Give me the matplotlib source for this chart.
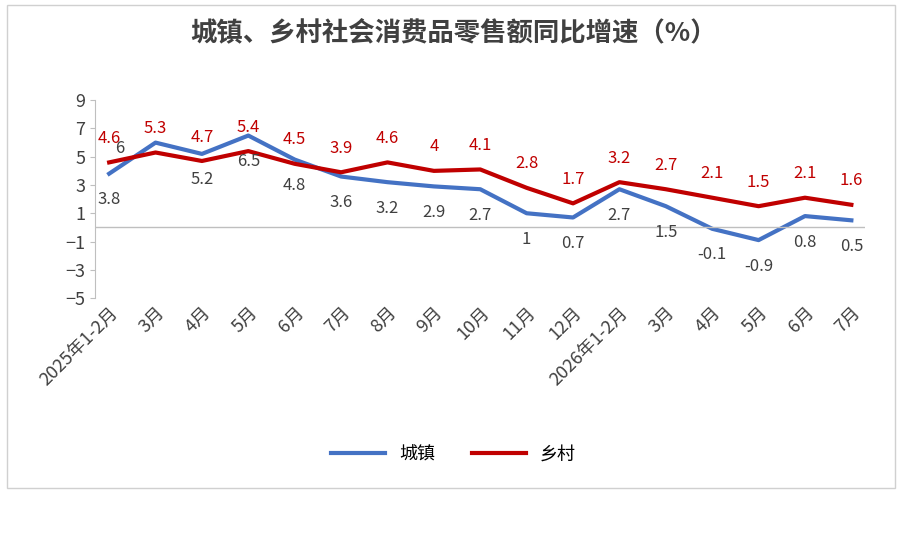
import matplotlib.pyplot as plt
from matplotlib.patches import Rectangle

plt.rcParams['font.family'] = ['Noto Sans CJK SC', 'DejaVu Sans']

months = ['2025年1-2月', '3月', '4月', '5月', '6月', '7月', '8月', '9月', '10月', '11月', '12月',
          '2026年1-2月', '3月', '4月', '5月', '6月', '7月']
urban = [3.8, 6, 5.2, 6.5, 4.8, 3.6, 3.2, 2.9, 2.7, 1, 0.7, 2.7, 1.5, -0.1, -0.9, 0.8, 0.5]
rural = [4.6, 5.3, 4.7, 5.4, 4.5, 3.9, 4.6, 4, 4.1, 2.8, 1.7, 3.2, 2.7, 2.1, 1.5, 2.1, 1.6]

fig = plt.figure(figsize=(9.07, 5.36), dpi=100)
fig.patches.append(Rectangle((7/907, 48/536), 888/907, 483/536, transform=fig.transFigure,
                             fill=False, edgecolor='#d0d0d0', lw=1))
ax = fig.add_axes([0.105, 0.444, 0.849, 0.369])
x = list(range(len(months)))
ax.plot(x, urban, color='#4472c4', lw=3, label='城镇')
ax.plot(x, rural, color='#c00000', lw=3, label='乡村')
ax.axhline(0, color='#bfbfbf', lw=1)
ax.set_xlim(-0.3, len(months) - 0.7)
ax.set_ylim(-5, 9)
ax.set_yticks(range(-5, 10, 2))
ax.set_xticks(x)
ax.set_xticklabels(months, rotation=45, ha='right', rotation_mode='anchor', fontsize=13, color='#404040')
ax.tick_params(axis='x', length=0, pad=4)
ax.tick_params(axis='y', labelsize=13, labelcolor='#404040', color='#bfbfbf')
for s in ['top', 'right', 'bottom']:
    ax.spines[s].set_visible(False)
ax.spines['left'].set_color('#bfbfbf')

for i, (u, r) in enumerate(zip(urban, rural)):
    ax.annotate(f'{r:g}', (i, r), xytext=(0, 14), textcoords='offset points',
                ha='center', fontsize=12, color='#c00000')
    if i == 1:
        ax.annotate(f'{u:g}', (i, u), xytext=(-26, -4), textcoords='offset points',
                    ha='center', va='center', fontsize=12, color='#404040')
        continue
    ax.annotate(f'{u:g}', (i, u), xytext=(0, -22), textcoords='offset points',
                ha='center', fontsize=12, color='#404040')

fig.text(0.5, 0.925, '城镇、乡村社会消费品零售额同比增速（%）', ha='center', fontsize=19,
         fontweight='bold', color='#404040')
fig.legend(loc='center', bbox_to_anchor=(0.5, 0.152), ncol=2, frameon=False, fontsize=13,
           handlelength=3)
fig.savefig('out.png')
